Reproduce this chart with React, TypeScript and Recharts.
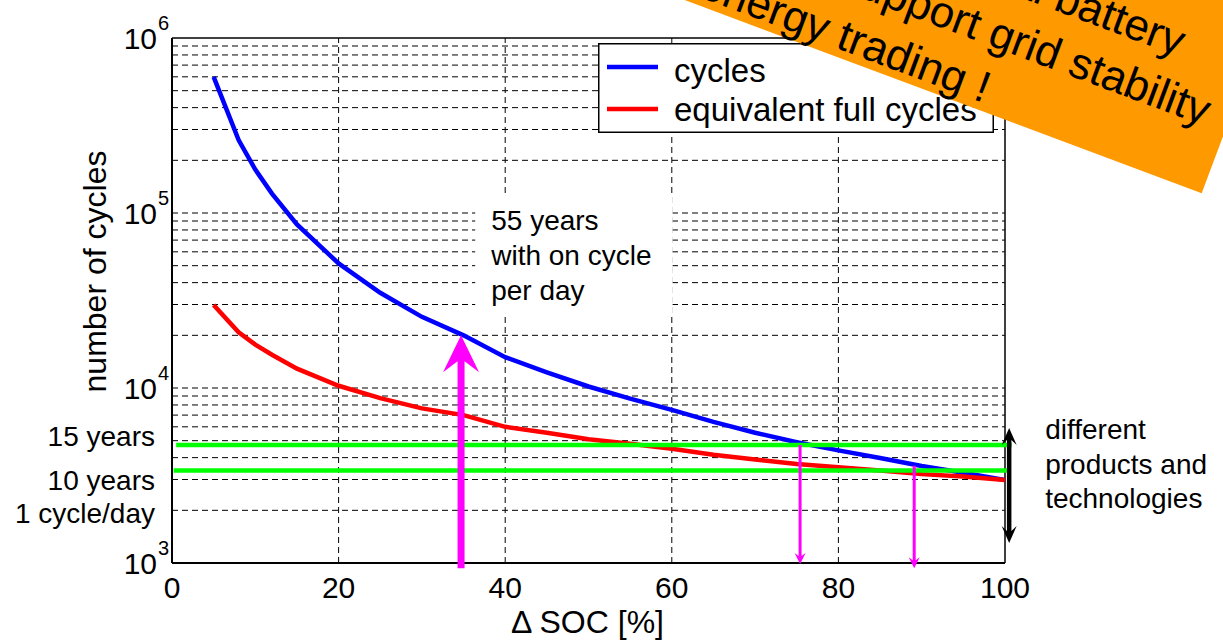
import React from "react";
import { LineChart, Line, XAxis, YAxis, ReferenceLine, ReferenceArea, Legend } from "recharts";

const FONT = '"Liberation Sans", Arial, Helvetica, sans-serif';

// cycle life vs. depth of discharge
const socSteps = [5, 8, 10, 12, 15, 20, 25, 30, 35, 40, 45, 50, 55, 60, 65, 70, 75, 80, 85, 90, 95, 100];
const cycleCounts = [600000, 261000, 177000, 129000, 86000, 51500, 35000, 25500, 20000, 15000, 12300, 10200, 8700, 7500, 6400, 5550, 4900, 4400, 3980, 3580, 3280, 2980];
const fullCycleCounts = [29800, 20800, 17700, 15500, 12900, 10300, 8750, 7650, 7000, 6000, 5550, 5100, 4800, 4500, 4150, 3900, 3680, 3520, 3380, 3220, 3120, 2980];

const xTicks = [0, 20, 40, 60, 80, 100];
const decadeTicks = [1000, 10000, 100000, 1000000];
const sideLabels = [
  { value: 5300, text: "15 years" },
  { value: 2980, text: "10 years" },
  { value: 1930, text: "1 cycle/day" },
];

// 15 / 10 year lifetime levels
const lifetimeLevels = [
  { value: 4720, from: 0.5, to: 100.8 },
  { value: 3380, from: 0.2, to: 100.4 },
];
const dayArrow = { soc: 34.7, from: 933, to: 20000 };
const lifetimeArrows = [
  { soc: 75.4, from: 4720, to: 987 },
  { soc: 89.1, from: 3600, to: 933 },
];
const spreadArrow = { soc: 100.5, low: 1300, high: 5900 };
const noteBox = { x1: 36.4, x2: 60.1, y1: 26100, y2: 125000 };
const noteLines = ["55 years", "with on cycle", "per day"];
const spreadLines = ["different", "products and", "technologies"];
const bannerLines = ["Additional battery", "to support grid stability", "and energy trading !"];

const xGrid = [20, 40, 60, 80];
const yGrid = [1000, 10000, 100000]
  .flatMap((d) => [1, 2, 3, 4, 5, 6, 7, 8, 9].map((m) => d * m))
  .filter((v) => v > 1000);

const data = socSteps.map((soc, i) => ({
  soc,
  cycles: cycleCounts[i],
  fullCycles: fullCycleCounts[i],
}));

const MAGENTA = "#FF00FF";
const GREEN = "#00FF00";

function arrowShape(shaft: number, headW: number, headL: number, notch: number, fill: string, both = false) {
  return (p: any) => {
    const x1 = Number(p.x1), y1 = Number(p.y1), x2 = Number(p.x2), y2 = Number(p.y2);
    const len = Math.hypot(x2 - x1, y2 - y1) || 1;
    const ux = (x2 - x1) / len, uy = (y2 - y1) / len;
    const nx = -uy, ny = ux;
    const at = (d: number, o: number, fromEnd: boolean) =>
      fromEnd
        ? [x2 - ux * d + nx * o, y2 - uy * d + ny * o]
        : [x1 + ux * d + nx * o, y1 + uy * d + ny * o];
    const pts: number[][] = [];
    if (both) pts.push([x1, y1], at(headL, headW / 2, false), at(headL - notch, shaft / 2, false));
    else pts.push(at(0, shaft / 2, false));
    pts.push(
      at(headL - notch, shaft / 2, true),
      at(headL, headW / 2, true),
      [x2, y2],
      at(headL, -headW / 2, true),
      at(headL - notch, -shaft / 2, true)
    );
    if (both) pts.push(at(headL - notch, -shaft / 2, false), at(headL, -headW / 2, false));
    else pts.push(at(0, -shaft / 2, false));
    return <polygon points={pts.map((q) => q.join(",")).join(" ")} fill={fill} />;
  };
}

function YTick({ x, y, payload }: any) {
  const v = payload.value;
  const side = sideLabels.find((s) => s.value === v);
  if (side) {
    return (
      <text x={x - 17} y={y + 10} textAnchor="end" fontSize={28} fill="#000" fontFamily={FONT}>
        {side.text}
      </text>
    );
  }
  const exp = Math.round(Math.log10(v));
  return (
    <g fontFamily={FONT} fill="#000">
      <text x={x - 15} y={y + 10.5} textAnchor="end" fontSize={30}>10</text>
      <text x={x - 14} y={y - 8} fontSize={20}>{exp}</text>
    </g>
  );
}

function LegendBox({ payload }: any) {
  const items = (payload || []).slice(0, 2);
  return (
    <svg width={396} height={90} style={{ display: "block" }}>
      <rect x={0.75} y={0.75} width={394.5} height={88.5} fill="#fff" stroke="#000" strokeWidth={1.5} />
      {items.map((it: any, i: number) => (
        <g key={it.value}>
          <line x1={9} x2={60} y1={24 + i * 42} y2={24 + i * 42} stroke={it.color} strokeWidth={4.5} />
          <text x={76} y={39 + i * 39} fontSize={33} fontFamily={FONT} fill="#000">
            {it.value}
          </text>
        </g>
      ))}
    </svg>
  );
}

function NoteLabel({ viewBox }: any) {
  return (
    <text fontSize={28} fontFamily={FONT} fill="#000">
      {noteLines.map((t, i) => (
        <tspan key={t} x={viewBox.x + 16} y={viewBox.y + 34 + i * 35}>
          {t}
        </tspan>
      ))}
    </text>
  );
}

function SpreadLabel({ viewBox }: any) {
  return (
    <text fontSize={28} fontFamily={FONT} fill="#000">
      {spreadLines.map((t, i) => (
        <tspan key={t} x={viewBox.x + 36} y={viewBox.y + 11 + i * 34.5}>
          {t}
        </tspan>
      ))}
    </text>
  );
}

export default function App() {
  return (
    <div
      style={{
        position: "absolute",
        left: 0,
        top: 0,
        width: 1223,
        height: 640,
        overflow: "hidden",
        background: "#fff",
        fontFamily: FONT,
      }}
    >
      <LineChart width={1223} height={640} data={data} margin={{ top: 38, right: 218, bottom: 0, left: 0 }}>
        <XAxis
          dataKey="soc"
          type="number"
          domain={[0, 100]}
          ticks={xTicks}
          interval={0}
          allowDataOverflow
          height={77}
          tickLine={false}
          tickSize={0}
          tickMargin={14}
          axisLine={{ stroke: "#000", strokeWidth: 2 }}
          tick={{ fontSize: 30, fill: "#000", fontFamily: FONT }}
          label={({ viewBox }: any) => (
            <text x={viewBox.x + viewBox.width / 2 - 1} y={viewBox.y + 70} textAnchor="middle" fontSize={32} fontFamily={FONT} fill="#000">
              Δ SOC [%]
            </text>
          )}
        />
        <YAxis
          type="number"
          scale="log"
          domain={[1000, 1000000]}
          allowDataOverflow
          ticks={[...decadeTicks, ...sideLabels.map((s) => s.value)]}
          interval={0}
          width={172}
          tickLine={false}
          tickSize={0}
          tickMargin={0}
          axisLine={{ stroke: "#000", strokeWidth: 2 }}
          tick={<YTick />}
          label={({ viewBox }: any) => {
            const cx = 95;
            const cy = viewBox.y + viewBox.height / 2 - 29;
            return (
              <text x={cx} y={cy} transform={`rotate(-90 ${cx} ${cy})`} textAnchor="middle" dominantBaseline="central" fontSize={32} fontFamily={FONT} fill="#000">
                number of cycles
              </text>
            );
          }}
        />

        {xGrid.map((v) => (
          <ReferenceLine key={`gx${v}`} x={v} stroke="#000" strokeWidth={1} strokeDasharray="6 4" zIndex={-100} />
        ))}
        {yGrid.map((v) => (
          <ReferenceLine key={`gy${v}`} y={v} stroke="#000" strokeWidth={1} strokeDasharray="6 4" zIndex={-100} />
        ))}
        <ReferenceLine y={1000000} stroke="#000" strokeWidth={1.5} zIndex={-90} />
        <ReferenceLine x={100} stroke="#000" strokeWidth={1.5} zIndex={-90} />

        <ReferenceArea
          x1={noteBox.x1}
          x2={noteBox.x2}
          y1={noteBox.y1}
          y2={noteBox.y2}
          fill="#fff"
          fillOpacity={1}
          stroke="none"
          zIndex={-50}
          label={(props: any) => <NoteLabel {...props} />}
        />

        <Line
          type="linear"
          dataKey="cycles"
          name="cycles"
          stroke="#0000FF"
          strokeWidth={4.5}
          dot={false}
          activeDot={false}
          isAnimationActive={false}
        />
        <Line
          type="linear"
          dataKey="fullCycles"
          name="equivalent full cycles"
          stroke="#FF0000"
          strokeWidth={4.5}
          dot={false}
          activeDot={false}
          isAnimationActive={false}
        />

        {lifetimeLevels.map((l) => (
          <ReferenceLine
            key={`life${l.value}`}
            segment={[{ x: l.from, y: l.value }, { x: l.to, y: l.value }]}
            stroke={GREEN}
            strokeWidth={4.5}
            ifOverflow="visible"
            zIndex={450}
          />
        ))}

        <ReferenceLine
          segment={[{ x: dayArrow.soc, y: dayArrow.from }, { x: dayArrow.soc, y: dayArrow.to }]}
          ifOverflow="visible"
          shape={arrowShape(7, 36, 37, 11, MAGENTA)}
          zIndex={500}
        />
        {lifetimeArrows.map((a) => (
          <ReferenceLine
            key={`arr${a.soc}`}
            segment={[{ x: a.soc, y: a.from }, { x: a.soc, y: a.to }]}
            ifOverflow="visible"
            shape={arrowShape(3, 11, 11, 3, MAGENTA)}
            zIndex={500}
          />
        ))}
        <ReferenceLine
          segment={[{ x: spreadArrow.soc, y: spreadArrow.high }, { x: spreadArrow.soc, y: spreadArrow.low }]}
          ifOverflow="visible"
          shape={arrowShape(4.5, 15, 17, 5, "#000", true)}
          zIndex={500}
          label={(props: any) => <SpreadLabel {...props} />}
        />

        <Legend
          layout="vertical"
          align="center"
          verticalAlign="middle"
          wrapperStyle={{ left: 598, top: 43, width: 396, height: 90 }}
          content={(props: any) => <LegendBox {...props} />}
        />
      </LineChart>

      <svg
        width={1223}
        height={640}
        style={{ position: "absolute", left: 0, top: 0, pointerEvents: "none" }}
      >
        <g transform="translate(1201.7 193.3) rotate(20.5)">
          <rect x={-900} y={-320} width={900} height={320} fill="#FF9900" />
          <text fontSize={44} fontFamily={FONT} fill="#000" textAnchor="end">
            <tspan x={-70} y={-120}>{bannerLines[0]}</tspan>
            <tspan x={-22} y={-64}>{bannerLines[1]}</tspan>
            <tspan x={-236} y={-8}>{bannerLines[2]}</tspan>
          </text>
        </g>
      </svg>
    </div>
  );
}
